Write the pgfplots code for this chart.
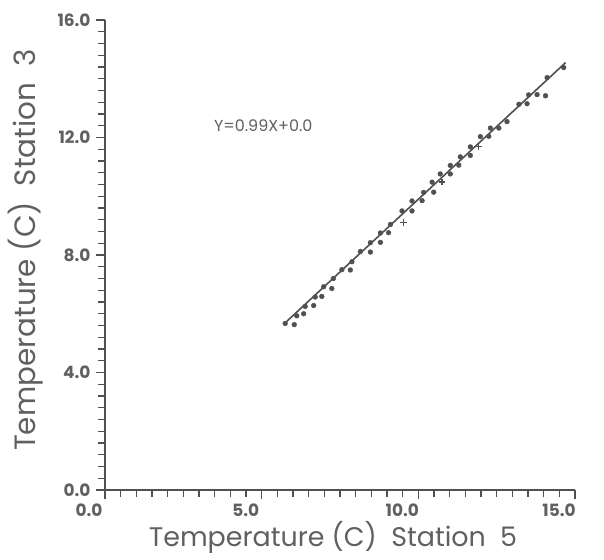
\documentclass[border=0pt]{standalone}
\usepackage{pgfplots}
\pgfplotsset{compat=1.18}
\usepackage{fontspec}
\setmainfont{Poppins}
\definecolor{ink}{HTML}{505050}
\definecolor{txt}{HTML}{606060}
\begin{document}
\begin{tikzpicture}
\begin{axis}[
  anchor=origin, at={(0,0)},
  x=31.333bp, y=29.375bp,
  xmin=0, xmax=15, ymin=0, ymax=16,
  axis lines*=left,
  axis line style={ink, line width=1.6bp},
  xtick={0,5,10,15}, ytick={0,4,8,12,16},
  minor x tick num=9, minor y tick num=9,
  tick align=outside,
  major tick length=9bp, minor tick length=7bp,
  every tick/.style={ink, line width=1.3bp},
  /pgf/number format/.cd, fixed, fixed zerofill, precision=1, assume math mode=true,
  /pgfplots/.cd,
  tick label style={txt, font=\fontsize{17}{18}\selectfont\bfseries},
  xticklabel style={xshift=-16bp, yshift=-1bp},
  yticklabel style={xshift=-2bp},
  xlabel={Temperature (C)\ \ Station\ \ 5},
  ylabel={Temperature (C)\ \ Station\ \ 3},
  label style={txt},
  xlabel style={font=\fontsize{27}{30}\selectfont, at={(axis description cs:0.485,-0.1)}, anchor=center},
  ylabel style={font=\fontsize{29.5}{32}\selectfont, at={(axis description cs:-0.17,0.51)}, anchor=center, rotate=0},
  clip=false,
]
% fitted line Y = 0.99X
\addplot[ink, line width=1.6bp] coordinates {(5.75,5.69) (14.7,14.55)};
% paired daily temperatures
\addplot[only marks, mark=*, mark size=2.4bp, ink] coordinates {
(5.75,5.67) (6.04,5.63) (6.12,5.93) (6.34,6.00) (6.39,6.25) (6.66,6.28)
(6.71,6.57) (6.92,6.59) (6.98,6.92) (7.24,6.86) (7.29,7.20) (7.56,7.50)
(7.83,7.49) (7.88,7.77) (8.15,8.12) (8.47,8.10) (8.47,8.42) (8.79,8.43)
(8.79,8.75) (9.05,8.76) (9.11,9.04) (9.48,9.50) (9.80,9.84) (9.80,9.50)
(10.12,9.85) (10.17,10.13) (10.44,10.48) (10.49,10.14) (10.70,10.76)
(11.02,11.05) (11.02,10.76) (11.29,11.06) (11.34,11.34) (11.66,11.39)
(11.66,11.68) (11.98,12.03) (12.25,12.04) (12.30,12.32) (12.57,12.32)
(12.83,12.54) (13.21,13.13) (13.47,13.15) (13.52,13.45) (13.79,13.46)
(14.06,13.42) (14.11,14.04) (14.64,14.38)
};
\addplot[only marks, mark=+, mark size=3.2bp, ink, line width=1.3bp] coordinates {
(9.53,9.10) (10.76,10.48) (11.93,11.69)
};
\node[txt, font=\fontsize{16}{17}\selectfont] at (axis cs:5.05,12.4) {Y=0.99X+0.0};
\end{axis}
\path[use as bounding box] (-105bp,-70bp) rectangle (499bp,490bp);
\end{tikzpicture}
\end{document}
